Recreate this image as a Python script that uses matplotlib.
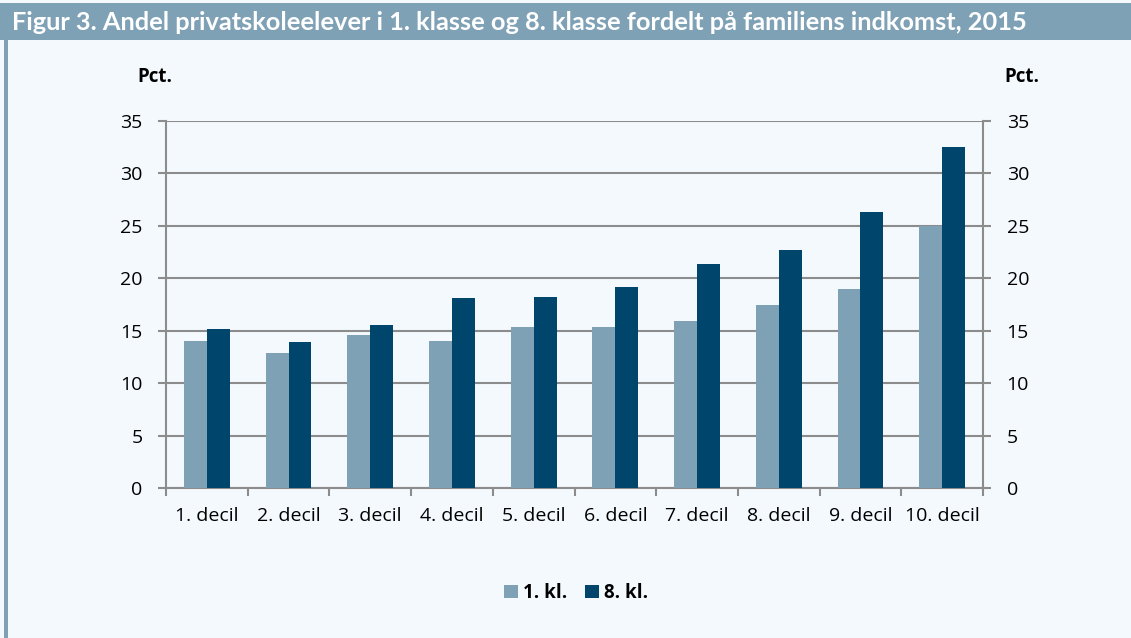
import numpy as np
from matplotlib import pyplot as plt
from matplotlib.patches import Rectangle

categories = ['1. decil', '2. decil', '3. decil', '4. decil', '5. decil',
              '6. decil', '7. decil', '8. decil', '9. decil', '10. decil']
kl1 = [14.0, 12.9, 14.6, 14.0, 15.4, 15.4, 15.9, 17.5, 19.0, 25.0]
kl8 = [15.2, 13.9, 15.5, 18.1, 18.2, 19.2, 21.4, 22.7, 26.3, 32.5]
yticks = [0, 5, 10, 15, 20, 25, 30, 35]
title = 'Figur 3. Andel privatskoleelever i 1. klasse og 8. klasse fordelt på familiens indkomst, 2015'

bg = '#f4f9fd'
c_light = '#7fa1b6'
c_dark = '#00456c'
grid_c = '#8c8c8c'

plt.rcParams['font.family'] = ['Open Sans', 'DejaVu Sans']

fig = plt.figure(figsize=(11.31, 6.38), dpi=100, facecolor=bg)

# title bar and left strip
fig.patches.append(Rectangle((0, 1 - 40 / 638), 1, 37 / 638, transform=fig.transFigure,
                             facecolor='#7fa1b6', edgecolor='none', zorder=0))
fig.patches.append(Rectangle((4 / 1131, 0), 4 / 1131, 1 - 40 / 638, transform=fig.transFigure,
                             facecolor='#7fa1b6', edgecolor='none', zorder=0))
fig.text(12 / 1131, 1 - 22 / 638, title, color='white', fontsize=18.3, fontweight='bold',
         va='center', ha='left', family=['Lato', 'DejaVu Sans'])

ax = fig.add_axes([166 / 1131, 1 - 488 / 638, 817 / 1131, 367 / 638])
ax.set_facecolor(bg)

x = np.arange(len(categories))
w = 0.28
ax.bar(x - w / 2, kl1, w, color=c_light, label='1. kl.', zorder=3)
ax.bar(x + w / 2, kl8, w, color=c_dark, label='8. kl.', zorder=3)

ax.set_xlim(-0.5, len(categories) - 0.5)
ax.set_ylim(0, 35)
ax.set_yticks(yticks)
ax.yaxis.grid(True, color=grid_c, linewidth=1.5, zorder=0)
ax.set_axisbelow(True)

ax.set_xticks(np.arange(len(categories) + 1) - 0.5)
ax.set_xticklabels([])
ax.set_xticks(x, minor=True)
ax.set_xticklabels(categories, minor=True)
ax.tick_params(axis='x', which='major', length=6, width=1.5, color=grid_c, direction='out')
ax.tick_params(axis='x', which='minor', length=0, pad=14, labelsize=14)
ax.tick_params(axis='y', left=True, right=True, labelleft=True, labelright=True,
               length=6, width=1.5, color=grid_c, pad=11, labelsize=14)

ax.spines['top'].set_visible(False)
for s in ['left', 'right', 'bottom']:
    ax.spines[s].set_color(grid_c)
    ax.spines[s].set_linewidth(1.5)

fig.text(137 / 1131, 1 - 77 / 638, 'Pct.', fontsize=13.5, fontweight='bold', va='center', ha='left')
fig.text(1004 / 1131, 1 - 77 / 638, 'Pct.', fontsize=13.5, fontweight='bold', va='center', ha='left')

leg = fig.legend(loc='center', bbox_to_anchor=(576 / 1131, 1 - 593 / 638), ncol=2,
                 frameon=False, handlelength=0.75, handleheight=0.75, handletextpad=0.3,
                 columnspacing=0.9, prop={'weight': 'bold', 'size': 13.5})

fig.savefig('out.png', dpi=100, facecolor=bg)
